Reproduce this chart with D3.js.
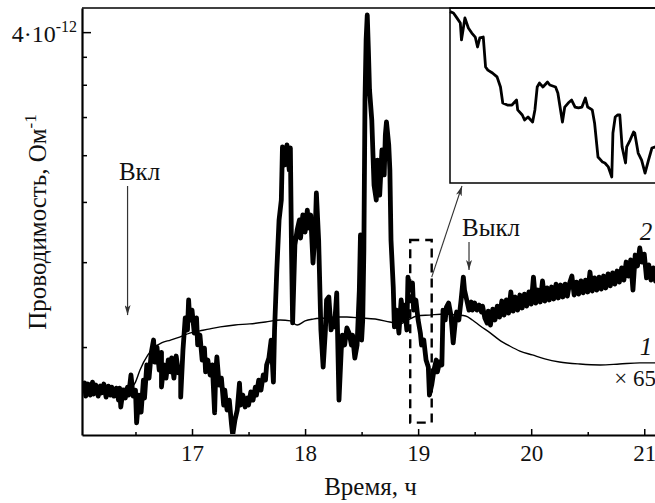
<!DOCTYPE html>
<html>
<head>
<meta charset="utf-8">
<script src="https://cdn.jsdelivr.net/npm/d3@7"></script>
<style>
  body { margin: 0; background: #fff; }
  svg { display: block; }
  text { font-family: "Liberation Serif", serif; fill: #111; }
</style>
</head>
<body>
<svg id="chart" width="655" height="503"></svg>
<script>
// curve 2 (thick, noisy), conductance in units of 1e-12 Ohm^-1
const hours2 = [
  16.03, 16.05, 16.06, 16.08, 16.10, 16.12, 16.13, 16.15, 16.17, 16.19,
  16.20, 16.22, 16.24, 16.26, 16.28, 16.29, 16.31, 16.33, 16.35, 16.36,
  16.37, 16.39, 16.41, 16.43, 16.44, 16.46, 16.48, 16.50, 16.51, 16.53,
  16.55, 16.57, 16.58, 16.60, 16.62, 16.64, 16.66, 16.67, 16.69, 16.71,
  16.73, 16.73, 16.75, 16.77, 16.79, 16.81, 16.82, 16.84, 16.86, 16.88,
  16.90, 16.90, 16.92, 16.94, 16.96, 16.97, 16.98, 17.00, 17.02, 17.04,
  17.05, 17.07, 17.09, 17.11, 17.12, 17.14, 17.16, 17.18, 17.20, 17.21,
  17.22, 17.24, 17.26, 17.28, 17.29, 17.31, 17.33, 17.35, 17.36, 17.38,
  17.40, 17.42, 17.43, 17.45, 17.47, 17.49, 17.50, 17.52, 17.54, 17.56,
  17.57, 17.59, 17.61, 17.63, 17.65, 17.66, 17.68, 17.70, 17.72, 17.73,
  17.75, 17.77, 17.79, 17.80, 17.82, 17.84, 17.86, 17.87, 17.88, 17.89,
  17.91, 17.93, 17.95, 17.96, 17.98, 18.00, 18.02, 18.03, 18.05, 18.07,
  18.09, 18.10, 18.12, 18.14, 18.16, 18.18, 18.19, 18.21, 18.23, 18.25,
  18.26, 18.28, 18.30, 18.32, 18.33, 18.35, 18.37, 18.39, 18.41, 18.42,
  18.44, 18.46, 18.48, 18.49, 18.49, 18.50, 18.51, 18.52, 18.53, 18.54,
  18.55, 18.56, 18.57, 18.59, 18.61, 18.63, 18.64, 18.66, 18.68, 18.70,
  18.71, 18.72, 18.74, 18.75, 18.76, 18.78, 18.79, 18.81, 18.83, 18.85,
  18.87, 18.88, 18.90, 18.91, 18.93, 18.95, 18.96, 18.98, 19.00, 19.02,
  19.03, 19.05, 19.07, 19.09, 19.10, 19.12, 19.14, 19.16, 19.17, 19.19,
  19.21, 19.22, 19.24, 19.25, 19.27, 19.29, 19.31, 19.33, 19.34, 19.36,
  19.38, 19.40, 19.41, 19.43, 19.45, 19.47, 19.48, 19.50, 19.52, 19.54,
  19.56, 19.57, 19.59, 19.61,
  19.62, 19.64, 19.66, 19.68, 19.70, 19.72, 19.74, 19.76, 19.78, 19.80,
  19.82, 19.84, 19.86, 19.88, 19.90, 19.92, 19.94, 19.96, 19.98, 20.00,
  20.02, 20.04, 20.06, 20.08, 20.10, 20.12, 20.14, 20.16, 20.18, 20.20,
  20.22, 20.24, 20.26, 20.28, 20.30, 20.32, 20.34, 20.36, 20.38, 20.40,
  20.42, 20.44, 20.46, 20.48, 20.50, 20.52, 20.54, 20.56, 20.58, 20.60,
  20.62, 20.64, 20.66, 20.68, 20.70, 20.72, 20.74, 20.76, 20.78, 20.80,
  20.82, 20.84, 20.86, 20.88, 20.90, 20.92, 20.94, 20.96, 20.98, 21.00,
  21.02, 21.04, 21.06, 21.08, 21.10
];
const cond2 = [
  0.322, 0.342, 0.291, 0.338, 0.295, 0.346, 0.299, 0.334, 0.291, 0.330,
  0.303, 0.338, 0.287, 0.330, 0.295, 0.326, 0.291, 0.322, 0.276, 0.322,
  0.251, 0.314, 0.284, 0.326, 0.295, 0.375, 0.291, 0.314, 0.196, 0.295,
  0.233, 0.354, 0.284, 0.418, 0.362, 0.475, 0.534, 0.431, 0.500, 0.396,
  0.475, 0.326, 0.418, 0.362, 0.440, 0.388, 0.449, 0.362, 0.458, 0.384,
  0.405, 0.287, 0.486, 0.649, 0.585, 0.752, 0.638, 0.693, 0.569, 0.649,
  0.510, 0.559, 0.440, 0.495, 0.388, 0.440, 0.375, 0.418, 0.230, 0.388,
  0.454, 0.334, 0.362, 0.258, 0.314, 0.240, 0.276, 0.189, 0.157, 0.206,
  0.240, 0.342, 0.258, 0.295, 0.251, 0.284, 0.258, 0.307, 0.276, 0.326,
  0.295, 0.354, 0.314, 0.375, 0.354, 0.418, 0.449, 0.534, 0.346, 0.585,
  0.945, 1.335, 1.518, 2.100, 1.886, 2.125, 1.829, 2.088, 1.089, 0.622,
  1.128, 1.249, 1.335, 1.183, 1.379, 1.232, 1.424, 1.266, 1.379, 0.994,
  1.249, 1.587, 1.167, 0.585, 0.409, 0.585, 0.752, 0.770, 0.585, 0.638,
  0.601, 0.795, 0.276, 0.486, 0.559, 0.510, 0.596, 0.569, 0.510, 0.559,
  0.449, 0.510, 0.813, 1.208, 0.813, 0.534, 0.638, 1.089, 2.754, 3.836,
  4.384, 3.632, 2.914, 2.458, 1.668, 1.518, 1.943, 1.567, 2.063, 1.775,
  2.254, 2.430, 2.125, 1.829, 1.167, 0.832, 0.601, 0.693, 0.569, 0.752,
  0.638, 0.722, 0.585, 0.897, 0.813, 0.858, 0.693, 0.752, 0.638, 0.569,
  0.510, 0.534, 0.440, 0.409, 0.295, 0.334, 0.396, 0.440, 0.388, 0.431,
  0.418, 0.693, 0.638, 0.710, 0.734, 0.665, 0.520, 0.638, 0.682, 0.638,
  0.752, 0.897, 0.813, 0.752, 0.693, 0.740, 0.693, 0.734, 0.693, 0.722,
  0.682, 0.716, 0.649, 0.622,
  0.687, 0.611, 0.699, 0.638, 0.716, 0.654, 0.746, 0.665, 0.752, 0.676,
  0.801, 0.687, 0.770, 0.693, 0.782, 0.705, 0.788, 0.716, 0.801, 0.728,
  0.897, 0.734, 0.813, 0.740, 0.871, 0.746, 0.826, 0.752, 0.832, 0.758,
  0.851, 0.764, 0.845, 0.770, 0.851, 0.776, 0.858, 0.904, 0.782, 0.864,
  0.788, 0.871, 0.795, 0.877, 0.801, 0.931, 0.807, 0.891, 0.813, 0.897,
  0.819, 0.904, 0.826, 0.918, 0.839, 0.925, 0.851, 0.938, 0.864, 0.959,
  0.877, 1.001, 0.904, 1.016, 0.813, 1.052, 0.973, 1.105, 1.001, 1.059,
  0.891, 0.980, 0.877, 0.959, 0.871
];

// curve 1 (thin, x65)
const hours1 = [
  16.03, 16.45, 16.50, 16.54, 16.61, 16.67, 16.73, 16.81, 16.89, 16.98,
  17.07, 17.16, 17.25, 17.38, 17.51, 17.65, 17.78, 17.87, 17.93, 18.00,
  18.07, 18.18, 18.26, 18.37, 18.49, 18.62, 18.75, 18.84, 18.91, 18.99,
  19.10, 19.24, 19.35, 19.42, 19.48, 19.55, 19.64, 19.72, 19.81, 19.90,
  20.01, 20.12, 20.25, 20.43, 20.61, 20.78, 20.96, 21.10
];
const cond1 = [
  0.318, 0.322, 0.346, 0.396, 0.463, 0.500, 0.520, 0.534, 0.549, 0.569,
  0.580, 0.591, 0.601, 0.611, 0.617, 0.627, 0.638, 0.633, 0.611, 0.633,
  0.643, 0.649, 0.654, 0.654, 0.649, 0.643, 0.627, 0.617, 0.638, 0.660,
  0.665, 0.671, 0.665, 0.660, 0.638, 0.606, 0.569, 0.534, 0.505, 0.481,
  0.463, 0.445, 0.431, 0.422, 0.418, 0.422, 0.427, 0.427
];

// inset: detail of the dashed box
const insetHours = [
  18.930, 18.933, 18.936, 18.939, 18.940, 18.943, 18.946, 18.949, 18.952, 18.954,
  18.956, 18.959, 18.961, 18.963, 18.967, 18.971, 18.974, 18.976, 18.980, 18.984,
  18.988, 18.989, 18.993, 18.995, 18.998, 19.002, 19.004, 19.006, 19.008, 19.011,
  19.015, 19.017, 19.022, 19.024, 19.028, 19.030, 19.033, 19.036, 19.039, 19.042,
  19.045, 19.048, 19.050, 19.054, 19.056, 19.059, 19.063, 19.065, 19.068, 19.071,
  19.072, 19.074, 19.076, 19.078, 19.080, 19.083, 19.084, 19.087, 19.090, 19.091,
  19.094, 19.097, 19.100, 19.103, 19.106, 19.109
];
const insetCond = [
  1.150, 1.142, 1.115, 1.087, 0.993, 1.115, 1.059, 1.031, 1.009, 0.954,
  1.004, 1.009, 0.843, 0.826, 0.810, 0.788, 0.732, 0.643, 0.632, 0.632,
  0.660, 0.605, 0.577, 0.549, 0.566, 0.538, 0.605, 0.732, 0.754, 0.732,
  0.760, 0.743, 0.732, 0.699, 0.538, 0.621, 0.643, 0.660, 0.621, 0.616,
  0.621, 0.671, 0.621, 0.605, 0.533, 0.344, 0.316, 0.311, 0.289, 0.233,
  0.477, 0.566, 0.577, 0.577, 0.400, 0.311, 0.400, 0.438, 0.483, 0.477,
  0.366, 0.327, 0.255, 0.327, 0.394, 0.400
];

const xTicks = [17, 18, 19, 20, 21];
const xMinorTicks = [16.5, 17.5, 18.5, 19.5, 20.5];
const yTicks = [4, 3.5, 3, 2.5, 2, 1.5, 1, 0.5];
const boxHours = [18.93, 19.12];
const boxCond = [0.197, 1.167];
const onHour = 16.43;
const offHour = 19.45;

const tickFont = 23;
const labelFont = 25;
const plot = { left: 82, right: 655, top: 8, bottom: 435 };
const OFFSET = 0.5; // axis is logarithmic in (G + 0.5e-12)

const svg = d3.select("#chart");

const x = d3.scaleLinear().domain([16.027, 21.095]).range([plot.left, plot.right]);
const yLog = d3.scaleLog()
  .domain([0.157 + OFFSET, 4.55 + OFFSET])
  .range([plot.bottom, plot.top]);
const y = v => yLog(v + OFFSET);

const defs = svg.append("defs");
defs.append("clipPath").attr("id", "plotClip")
  .append("rect")
  .attr("x", plot.left + 1).attr("y", plot.top)
  .attr("width", plot.right - plot.left).attr("height", plot.bottom - plot.top - 1);
defs.append("marker")
  .attr("id", "arrow")
  .attr("markerUnits", "userSpaceOnUse")
  .attr("viewBox", "0 0 10 6")
  .attr("refX", 10).attr("refY", 3)
  .attr("markerWidth", 10).attr("markerHeight", 6)
  .attr("orient", "auto")
  .append("path")
  .attr("d", "M0,0L10,3L0,6L2.5,3Z")
  .attr("fill", "#333");

const line = d3.line().x(d => x(d[0])).y(d => y(d[1]));

// curve 2
const plotG = svg.append("g").attr("clip-path", "url(#plotClip)");
plotG.append("path")
  .datum(hours2.map((h, i) => [h, cond2[i]]))
  .attr("d", line)
  .attr("fill", "none")
  .attr("stroke", "#000")
  .attr("stroke-width", 4.8)
  .attr("stroke-linejoin", "round")
  .attr("stroke-linecap", "round");

// curve 1
plotG.append("path")
  .datum(hours1.map((h, i) => [h, cond1[i]]))
  .attr("d", d3.line().x(d => x(d[0])).y(d => y(d[1])).curve(d3.curveMonotoneX))
  .attr("fill", "none")
  .attr("stroke", "#000")
  .attr("stroke-width", 1.4);

// dashed box
svg.append("rect")
  .attr("x", x(boxHours[0]))
  .attr("y", y(boxCond[1]))
  .attr("width", x(boxHours[1]) - x(boxHours[0]))
  .attr("height", y(boxCond[0]) - y(boxCond[1]))
  .attr("fill", "none")
  .attr("stroke", "#000")
  .attr("stroke-width", 2.4)
  .attr("stroke-dasharray", "9,6");

// inset
const inset = { left: 450, right: 668, top: plot.top, bottom: 183 };
const xi = d3.scaleLinear().domain([18.93, 19.12]).range([inset.left, inset.right]);
const yi = d3.scaleLinear().domain([0.2, 1.17]).range([inset.bottom, inset.top]);
svg.append("rect")
  .attr("x", inset.left).attr("y", inset.top)
  .attr("width", inset.right - inset.left).attr("height", inset.bottom - inset.top)
  .attr("fill", "#fff").attr("stroke", "#000").attr("stroke-width", 1.5);
svg.append("path")
  .datum(insetHours.map((h, i) => [h, insetCond[i]]))
  .attr("d", d3.line().x(d => xi(d[0])).y(d => yi(d[1])))
  .attr("fill", "none")
  .attr("stroke", "#000")
  .attr("stroke-width", 2.8)
  .attr("stroke-linejoin", "round");

// connector from the box to the inset
svg.append("line")
  .attr("x1", x(boxHours[1])).attr("y1", y(0.897))
  .attr("x2", inset.left + 12).attr("y2", inset.bottom + 3)
  .attr("stroke", "#333").attr("stroke-width", 1.1)
  .attr("marker-end", "url(#arrow)");

// axes
const gx = svg.append("g")
  .attr("transform", `translate(0,${plot.bottom})`)
  .call(d3.axisBottom(x).tickValues(xTicks).tickSize(-6).tickSizeOuter(0)
    .tickPadding(10).tickFormat(d3.format("d")));
gx.select(".domain").attr("stroke-width", 2);
gx.selectAll(".tick line").attr("stroke-width", 1.5);
gx.selectAll("text").attr("font-size", tickFont).attr("font-family", null);
gx.attr("font-family", null);

const gxm = svg.append("g")
  .attr("transform", `translate(0,${plot.bottom})`)
  .call(d3.axisBottom(x).tickValues(xMinorTicks).tickSize(-3).tickFormat(""));
gxm.select(".domain").remove();
gxm.selectAll(".tick line").attr("stroke-width", 1.5);

const gy = svg.append("g")
  .attr("transform", `translate(${plot.left},0)`)
  .call(d3.axisRight(yLog).tickValues(yTicks.map(v => v + OFFSET))
    .tickSize(5).tickSizeOuter(0).tickFormat(""));
gy.select(".domain").attr("stroke-width", 2.2);
gy.selectAll(".tick line").attr("stroke-width", 1.5)
  .filter(d => d === yTicks[0] + OFFSET).attr("x2", 9);

svg.append("line")
  .attr("x1", plot.left).attr("x2", plot.right + 2)
  .attr("y1", plot.top).attr("y2", plot.top)
  .attr("stroke", "#000").attr("stroke-width", 1.3);

// y tick label
const yl = svg.append("text")
  .attr("x", plot.left - 5)
  .attr("y", y(yTicks[0]) + 10)
  .attr("text-anchor", "end")
  .attr("font-size", 24);
yl.append("tspan").text("4·10");
yl.append("tspan").attr("dy", -10).attr("font-size", 16).text("-12");

// axis titles
svg.append("text")
  .attr("x", (plot.left + plot.right) / 2 + 2)
  .attr("y", 495)
  .attr("text-anchor", "middle")
  .attr("font-size", labelFont)
  .text("Время, ч");

const yt = svg.append("text")
  .attr("transform", "translate(46,222) rotate(-90)")
  .attr("text-anchor", "middle")
  .attr("font-size", labelFont);
yt.append("tspan").text("Проводимость, Ом");
yt.append("tspan").attr("dy", -10).attr("font-size", 17).text("-1");

// on / off annotations
svg.append("text")
  .attr("x", x(onHour) + 12).attr("y", 180)
  .attr("text-anchor", "middle").attr("font-size", labelFont)
  .text("Вкл");
svg.append("line")
  .attr("x1", x(onHour)).attr("x2", x(onHour))
  .attr("y1", 186).attr("y2", y(0.665))
  .attr("stroke", "#333").attr("stroke-width", 1.2)
  .attr("marker-end", "url(#arrow)");

svg.append("text")
  .attr("x", x(offHour) + 22).attr("y", 236)
  .attr("text-anchor", "middle").attr("font-size", labelFont)
  .text("Выкл");
svg.append("line")
  .attr("x1", x(offHour)).attr("x2", x(offHour))
  .attr("y1", 242).attr("y2", 270)
  .attr("stroke", "#333").attr("stroke-width", 1.2)
  .attr("marker-end", "url(#arrow)");

// curve labels
svg.append("text")
  .attr("x", 646).attr("y", 240)
  .attr("text-anchor", "middle").attr("font-style", "italic")
  .attr("font-size", labelFont).text("2");
svg.append("text")
  .attr("x", 646).attr("y", 355)
  .attr("text-anchor", "middle").attr("font-style", "italic")
  .attr("font-size", labelFont).text("1");
svg.append("text")
  .attr("x", 656).attr("y", 386)
  .attr("text-anchor", "end")
  .attr("font-size", tickFont).text("× 65");
</script>
</body>
</html>
